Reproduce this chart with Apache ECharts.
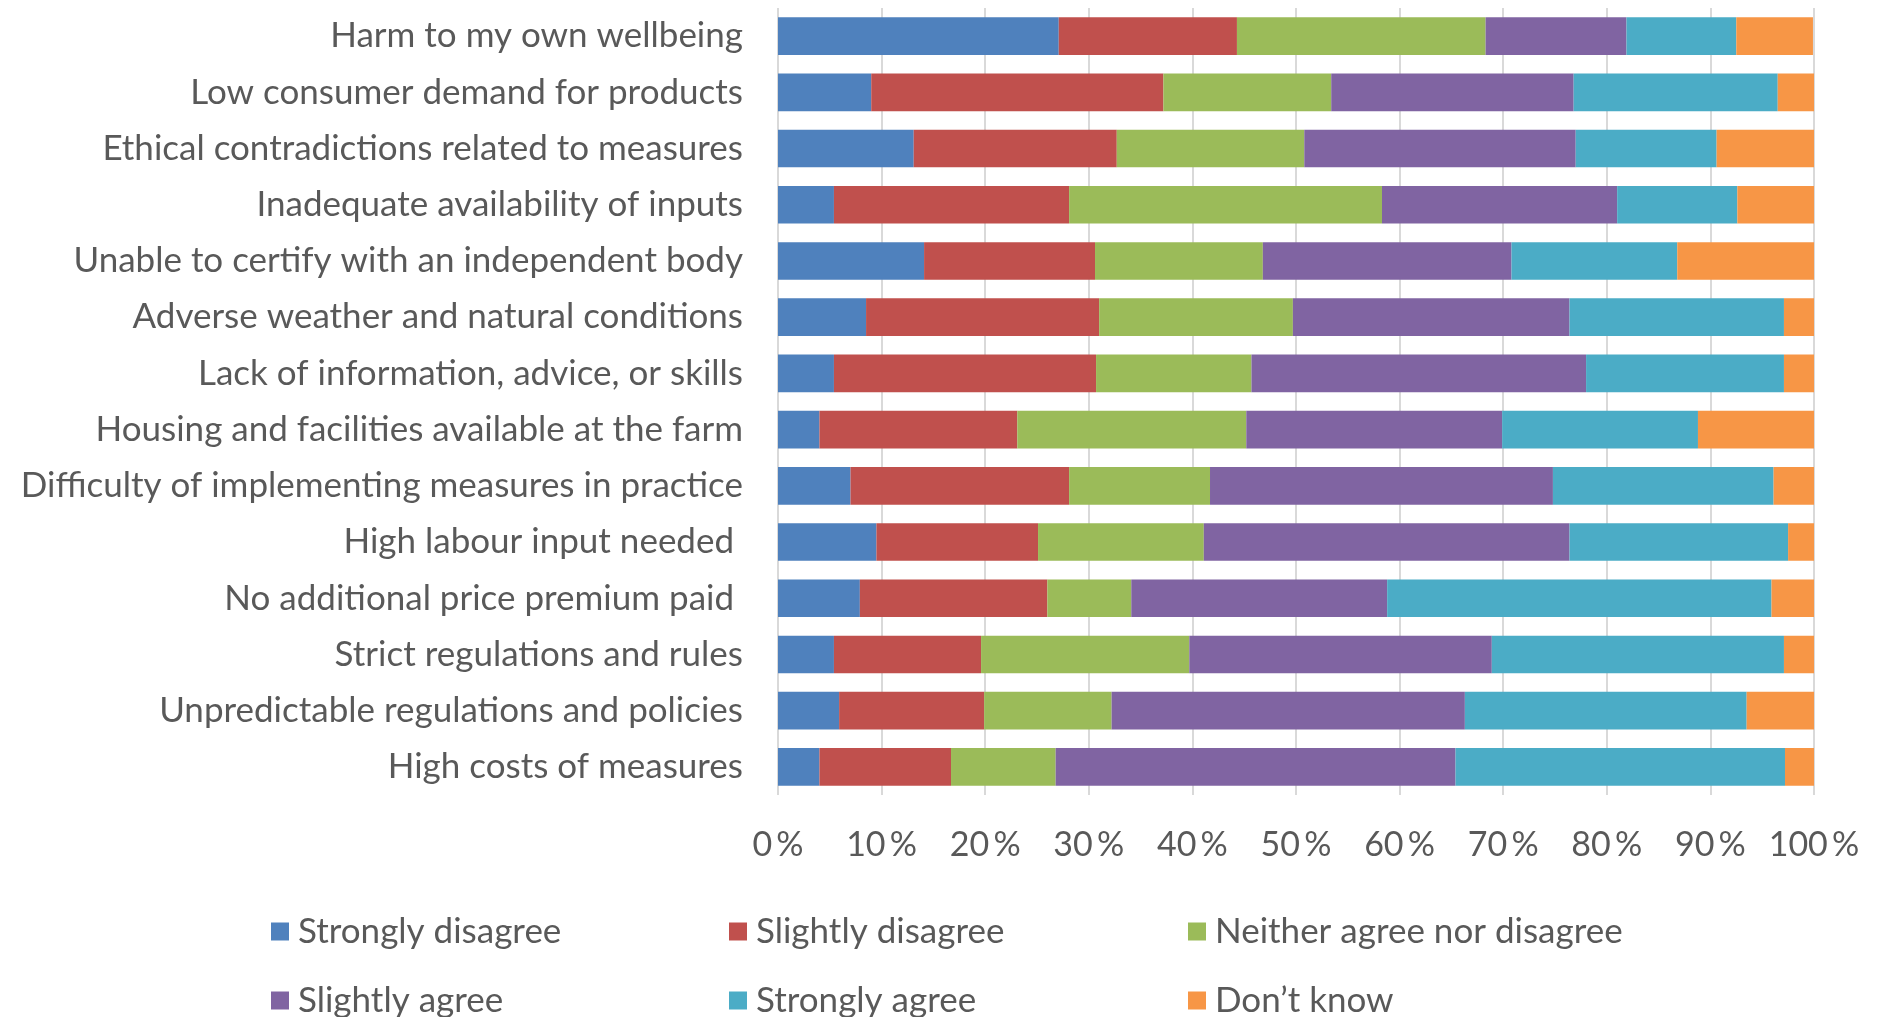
<!DOCTYPE html>
<html>
<head>
<meta charset="utf-8">
<title>Barriers to adopting measures</title>
<script src="https://cdn.jsdelivr.net/npm/echarts@6/dist/echarts.min.js"></script>
<style>
  html, body { margin: 0; padding: 0; background: #fff; }
  #chart { width: 1877px; height: 1017px; }
</style>
</head>
<body>
<div id="chart"></div>
<script>
// categories, top to bottom
const categories = [
  'Harm to my own wellbeing',
  'Low consumer demand for products',
  'Ethical contradictions related to measures',
  'Inadequate availability of inputs',
  'Unable to certify with an independent body',
  'Adverse weather and natural conditions',
  'Lack of information, advice, or skills',
  'Housing and facilities available at the farm',
  'Difficulty of implementing measures in practice',
  'High labour input needed ',
  'No additional price premium paid ',
  'Strict regulations and rules',
  'Unpredictable regulations and policies',
  'High costs of measures'
]

// share of answers (%) per category, same order
const stronglyDisagree = [27.1, 9.0, 13.1, 5.4, 14.1, 8.5, 5.4, 4.0, 7.0, 9.5, 7.9, 5.4, 5.9, 4.0]
const slightlyDisagree = [17.2, 28.2, 19.6, 22.7, 16.5, 22.5, 25.3, 19.1, 21.1, 15.6, 18.1, 14.2, 14.0, 12.7]
const neither = [24.0, 16.2, 18.1, 30.2, 16.2, 18.7, 15.0, 22.1, 13.6, 16.0, 8.1, 20.1, 12.3, 10.1]
const slightlyAgree = [13.6, 23.4, 26.2, 22.7, 24.0, 26.7, 32.3, 24.7, 33.1, 35.3, 24.7, 29.2, 34.1, 38.6]
const stronglyAgree = [10.6, 19.7, 13.6, 11.6, 16.0, 20.7, 19.1, 18.9, 21.3, 21.1, 37.1, 28.2, 27.2, 31.8]
const dontKnow = [7.4, 3.5, 9.4, 7.4, 13.2, 2.9, 2.9, 11.2, 3.9, 2.5, 4.1, 2.9, 6.5, 2.9]

const seriesNames = [
  'Strongly disagree', 'Slightly disagree', 'Neither agree nor disagree',
  'Slightly agree', 'Strongly agree', 'Don\u2019t know'
]
const seriesData = [stronglyDisagree, slightlyDisagree, neither, slightlyAgree, stronglyAgree, dontKnow]
const colors = ['#4F81BD', '#C0504D', '#9BBB59', '#8064A2', '#4BACC6', '#F79646']

const FONT = 'Lato, "Open Sans", sans-serif'
const TEXT = '#595959'

// legend laid out as a 3 x 2 grid, one legend per entry
const legendCols = [266, 724, 1183]
const legendRows = [909, 978]
const legends = seriesNames.map((name, i) => ({
  data: [name],
  left: legendCols[i % 3],
  top: legendRows[Math.floor(i / 3)],
  itemWidth: 18,
  itemHeight: 18,
  icon: 'rect',
  selectedMode: false,
  textStyle: {
    fontFamily: FONT,
    fontSize: 35,
    color: TEXT,
    padding: [0, 0, 0, 4]
  }
}))

const chart = echarts.init(document.getElementById('chart'), null, { renderer: 'canvas' })

chart.setOption({
  animation: false,
  color: colors,
  grid: {
    left: 778,
    right: 63,
    top: 8,
    bottom: 222,
    outerBoundsMode: 'none'
  },
  legend: legends,
  xAxis: {
    type: 'value',
    min: 0,
    max: 100,
    interval: 10,
    axisLine: { show: false },
    axisTick: { show: false },
    splitLine: { show: true, lineStyle: { color: '#D9D9D9', width: 2 } },
    axisLabel: {
      formatter: '{value}\u2009%',
      fontFamily: FONT,
      fontSize: 34,
      color: TEXT,
      margin: 33
    }
  },
  yAxis: {
    type: 'category',
    data: categories,
    inverse: true,
    axisLine: { show: false },
    axisTick: { show: false },
    splitLine: { show: false },
    axisLabel: {
      fontFamily: FONT,
      fontSize: 35,
      color: TEXT,
      margin: 35
    }
  },
  series: seriesNames.map((name, i) => ({
    name: name,
    type: 'bar',
    stack: 'total',
    barCategoryGap: '33%',
    data: seriesData[i]
  }))
})
</script>
</body>
</html>
